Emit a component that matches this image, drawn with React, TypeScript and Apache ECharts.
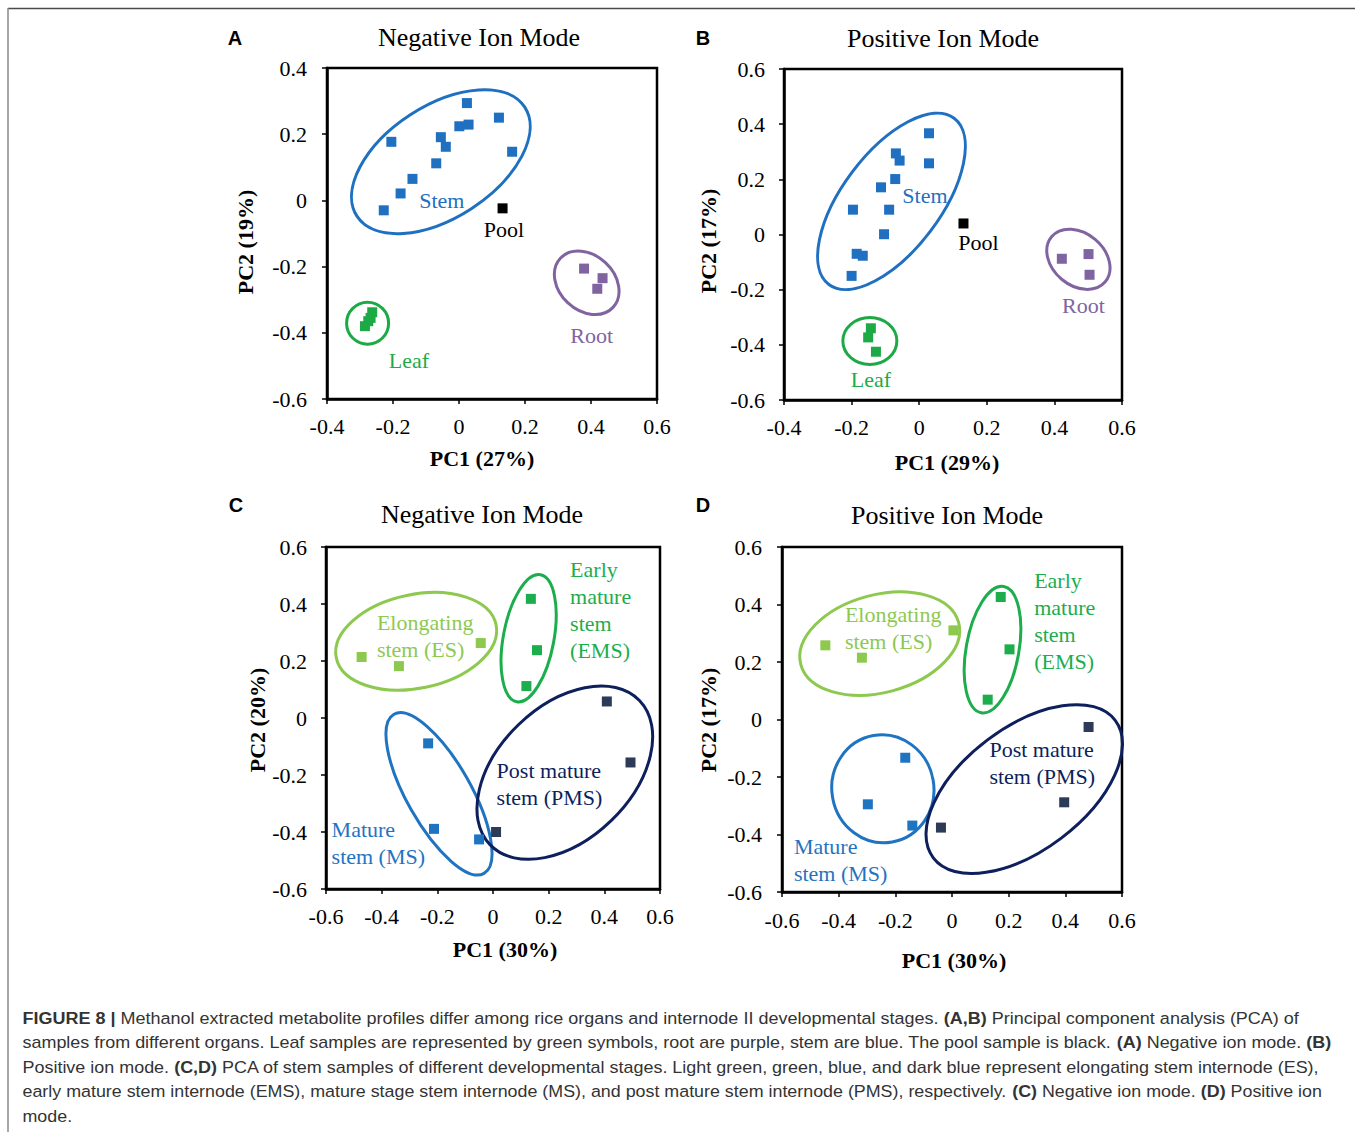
import React, { useEffect, useRef } from 'react';
import * as echarts from 'echarts';

const SERIF = "'Liberation Serif', 'Times New Roman', serif";

// ---------- Colours ----------
const C_STEM = '#1f70c1';
const C_LEAF = '#1daa46';
const C_ROOT = '#8064a2';
const C_POOL = '#000000';
const C_ES = '#8dc94e';
const C_EMS = '#1cad4c';
const C_MS = '#1f74c2';
const C_PMS_PT = '#2c3b58';
const C_PMS = '#0d1f5c';

// ---------- Panel A (negative ion, organs) ----------
const aStem = [[0.024, 0.294], [0.121, 0.25], [0.001, 0.224], [0.029, 0.229], [-0.205, 0.177], [-0.055, 0.191], [-0.04, 0.162], [0.161, 0.147], [-0.069, 0.112], [-0.141, 0.065], [-0.177, 0.021], [-0.228, -0.03]];
const aPool = [[0.132, -0.024]];
const aRoot = [[0.379, -0.206], [0.435, -0.235], [0.419, -0.267]];
const aLeaf = [[-0.263, -0.338], [-0.268, -0.355], [-0.275, -0.365], [-0.285, -0.38]];

// ---------- Panel B (positive ion, organs) ----------
const bStem = [[0.029, 0.367], [0.029, 0.258], [-0.069, 0.294], [-0.058, 0.268], [-0.071, 0.201], [-0.113, 0.171], [-0.196, 0.09], [-0.089, 0.09], [-0.104, 0.001], [-0.185, -0.07], [-0.167, -0.077], [-0.2, -0.15]];
const bPool = [[0.131, 0.04]];
const bRoot = [[0.422, -0.088], [0.501, -0.071], [0.504, -0.146]];
const bLeaf = [[-0.143, -0.34], [-0.151, -0.373], [-0.128, -0.425]];

// ---------- Panel C (negative ion, stem stages) ----------
const cES = [[-0.472, 0.214], [-0.338, 0.182], [-0.044, 0.263]];
const cEMS = [[0.136, 0.418], [0.158, 0.238], [0.12, 0.112]];
const cMS = [[-0.233, -0.089], [-0.212, -0.389], [-0.05, -0.426]];
const cPMS = [[0.409, 0.058], [0.494, -0.156], [0.011, -0.4]];

// ---------- Panel D (positive ion, stem stages) ----------
const dES = [[-0.447, 0.258], [-0.318, 0.215], [0.005, 0.31]];
const dEMS = [[0.172, 0.426], [0.203, 0.244], [0.126, 0.069]];
const dMS = [[-0.165, -0.133], [-0.297, -0.295], [-0.14, -0.369]];
const dPMS = [[0.482, -0.026], [0.396, -0.288], [-0.039, -0.376]];

// ---------- Group ellipses: [centre x, centre y, semi-axis a (px), semi-axis b (px), tilt deg] ----------
const aEllStem = [-0.055, 0.117, 100, 56, 33];
const aEllLeaf = [-0.277, -0.371, 21, 21, 0];
const aEllRoot = [0.387, -0.249, 36, 27.5, -43];
const bEllStem = [-0.082, 0.12, 104, 49, 53];
const bEllLeaf = [-0.146, -0.386, 27, 23.5, 0];
const bEllRoot = [0.471, -0.09, 35, 26, -40];
const cEllES = [-0.276, 0.269, 81.6, 46.9, 11.7];
const cEllEMS = [0.128, 0.28, 64.6, 25.3, 79.4];
const cEllMS = [-0.194, -0.266, 91.5, 32.1, -60.5];
const cEllPMS = [0.258, -0.192, 103.8, 66.7, 44];
const dEllES = [-0.255, 0.264, 81.7, 48.9, 14.9];
const dEllEMS = [0.143, 0.243, 64.1, 26.4, 79.9];
const dEllMS = [-0.244, -0.241, 54, 51, 100];
const dEllPMS = [0.255, -0.242, 114, 61.4, 37.1];

// ---------- Group labels ----------
const aLabels = [
  { text: 'Stem', pos: [-0.052, 0.001], color: C_STEM, left: false },
  { text: 'Pool', pos: [0.136, -0.087], color: '#000', left: false },
  { text: 'Root', pos: [0.402, -0.407], color: C_ROOT, left: false },
  { text: 'Leaf', pos: [-0.152, -0.484], color: C_LEAF, left: false },
];
const bLabels = [
  { text: 'Stem', pos: [0.017, 0.143], color: C_STEM, left: false },
  { text: 'Pool', pos: [0.175, -0.03], color: '#000', left: false },
  { text: 'Root', pos: [0.486, -0.259], color: C_ROOT, left: false },
  { text: 'Leaf', pos: [-0.143, -0.527], color: C_LEAF, left: false },
];
const cLabels = [
  { text: 'Elongating\nstem (ES)', pos: [-0.417, 0.288], color: C_ES, left: true },
  { text: 'Early\nmature\nstem\n(EMS)', pos: [0.277, 0.38], color: C_EMS, left: true },
  { text: 'Post mature\nstem (PMS)', pos: [0.013, -0.231], color: C_PMS, left: true },
  { text: 'Mature\nstem (MS)', pos: [-0.58, -0.438], color: C_MS, left: true },
];
const dLabels = [
  { text: 'Elongating\nstem (ES)', pos: [-0.378, 0.317], color: C_ES, left: true },
  { text: 'Early\nmature\nstem\n(EMS)', pos: [0.29, 0.342], color: C_EMS, left: true },
  { text: 'Post mature\nstem (PMS)', pos: [0.132, -0.152], color: C_PMS, left: true },
  { text: 'Mature\nstem (MS)', pos: [-0.558, -0.488], color: C_MS, left: true },
];

const panelTitles = ['Negative Ion Mode', 'Positive Ion Mode', 'Negative Ion Mode', 'Positive Ion Mode'];
const panelLetters = ['A', 'B', 'C', 'D'];
const xNames = ['PC1 (27%)', 'PC1 (29%)', 'PC1 (30%)', 'PC1 (30%)'];
const yNames = ['PC2 (19%)', 'PC2 (17%)', 'PC2 (20%)', 'PC2 (17%)'];

const captionLines: [string, boolean][][] = [
  [['FIGURE 8 |', true], [' Methanol extracted metabolite profiles differ among rice organs and internode II developmental stages. ', false], ['(A,B)', true], [' Principal component analysis (PCA) of', false]],
  [['samples from different organs. Leaf samples are represented by green symbols, root are purple, stem are blue. The pool sample is black. ', false], ['(A)', true], [' Negative ion mode. ', false], ['(B)', true]],
  [['Positive ion mode. ', false], ['(C,D)', true], [' PCA of stem samples of different developmental stages. Light green, green, blue, and dark blue represent elongating stem internode (ES),', false]],
  [['early mature stem internode (EMS), mature stage stem internode (MS), and post mature stem internode (PMS), respectively. ', false], ['(C)', true], [' Negative ion mode. ', false], ['(D)', true], [' Positive ion', false]],
  [['mode.', false]],
];
const captionWidths = [1276, 1309, 1298, 1300, 0];

const fmt = (v: number) => {
  const r = Math.round(v * 10) / 10;
  return r === 0 ? '0' : String(r);
};

function axis(gi: number, min: number, max: number, margin: number) {
  return {
    type: 'value', gridIndex: gi, min, max, interval: 0.2,
    axisLine: { show: true, onZero: false, lineStyle: { color: '#000', width: 2.5 } },
    axisTick: { show: true, inside: false, length: 5, lineStyle: { color: '#000', width: 1.5 } },
    axisLabel: { fontFamily: SERIF, fontSize: 22, color: '#000', margin, formatter: fmt, showMinLabel: true, showMaxLabel: true },
    splitLine: { show: false },
  };
}

function pts(gi: number, name: string, data: number[][], color: string) {
  return {
    type: 'scatter', name, xAxisIndex: gi, yAxisIndex: gi, data,
    symbol: 'rect', symbolSize: 10, itemStyle: { color, opacity: 1 }, silent: true, z: 4,
  };
}

function ell(gi: number, e: number[], color: string) {
  return {
    type: 'custom', xAxisIndex: gi, yAxisIndex: gi, silent: true, clip: false, z: 3,
    data: [e],
    renderItem: (_p: any, api: any) => {
      const c = api.coord([api.value(0), api.value(1)]);
      return {
        type: 'ellipse', x: c[0], y: c[1], rotation: (api.value(4) * Math.PI) / 180,
        shape: { cx: 0, cy: 0, rx: api.value(2), ry: api.value(3) },
        style: { fill: 'none', stroke: color, lineWidth: 3 },
      };
    },
  };
}

function labels(gi: number, items: any[]) {
  return {
    type: 'custom', xAxisIndex: gi, yAxisIndex: gi, silent: true, clip: false, z: 6,
    data: items.map((it) => it.pos),
    renderItem: (p: any, api: any) => {
      const it = items[p.dataIndex];
      const c = api.coord([api.value(0), api.value(1)]);
      const align = it.left ? 'left' : 'center';
      return {
        type: 'text', x: c[0], y: c[1],
        style: {
          text: it.text, fill: it.color, fontFamily: 'Liberation Serif', fontSize: 22, lineHeight: 27,
          align, textAlign: align, verticalAlign: 'middle', textVerticalAlign: 'middle',
        },
      };
    },
  };
}

function measure(segs: [string, boolean][]) {
  const cv = document.createElement('canvas');
  const ctx = cv.getContext('2d');
  if (!ctx) return 1;
  let w = 0;
  segs.forEach(([t, b]) => {
    ctx.font = (b ? 'bold ' : '') + '17px "Liberation Sans"';
    w += ctx.measureText(t).width;
  });
  return w;
}

function textEl(x: number, y: number, text: string, font: any, rotation = 0) {
  return {
    type: 'text', x, y, rotation, silent: true,
    style: {
      text, fill: '#000', ...font,
      align: 'center', textAlign: 'center', verticalAlign: 'middle', textVerticalAlign: 'middle',
    },
  };
}

export default function App() {
  const ref = useRef<HTMLDivElement>(null);
  useEffect(() => {
    if (!ref.current) return;
    const chart = echarts.init(ref.current, null, { renderer: 'svg' });

    const grids = [
      { left: 327, top: 68, width: 330, height: 331 },
      { left: 784, top: 69, width: 338, height: 331 },
      { left: 326, top: 547, width: 334, height: 342 },
      { left: 782, top: 547, width: 340, height: 345 },
    ].map((g) => ({ ...g, show: true, borderColor: '#000', borderWidth: 2.5, backgroundColor: 'transparent', containLabel: false }));

    const xAxes = [axis(0, -0.4, 0.6, 16), axis(1, -0.4, 0.6, 16), axis(2, -0.6, 0.6, 16), axis(3, -0.6, 0.6, 17)];
    const yAxes = [axis(0, -0.6, 0.4, 20), axis(1, -0.6, 0.6, 19), axis(2, -0.6, 0.6, 19), axis(3, -0.6, 0.6, 20)];

    const series: any[] = [
      ell(0, aEllStem, C_STEM), ell(0, aEllLeaf, C_LEAF), ell(0, aEllRoot, C_ROOT),
      pts(0, 'Stem', aStem, C_STEM), pts(0, 'Pool', aPool, C_POOL), pts(0, 'Root', aRoot, C_ROOT), pts(0, 'Leaf', aLeaf, C_LEAF),
      labels(0, aLabels),
      ell(1, bEllStem, C_STEM), ell(1, bEllLeaf, C_LEAF), ell(1, bEllRoot, C_ROOT),
      pts(1, 'Stem', bStem, C_STEM), pts(1, 'Pool', bPool, C_POOL), pts(1, 'Root', bRoot, C_ROOT), pts(1, 'Leaf', bLeaf, C_LEAF),
      labels(1, bLabels),
      ell(2, cEllES, C_ES), ell(2, cEllEMS, C_EMS), ell(2, cEllMS, C_MS), ell(2, cEllPMS, C_PMS),
      pts(2, 'ES', cES, C_ES), pts(2, 'EMS', cEMS, C_EMS), pts(2, 'MS', cMS, C_MS), pts(2, 'PMS', cPMS, C_PMS_PT),
      labels(2, cLabels),
      ell(3, dEllES, C_ES), ell(3, dEllEMS, C_EMS), ell(3, dEllMS, C_MS), ell(3, dEllPMS, C_PMS),
      pts(3, 'ES', dES, C_ES), pts(3, 'EMS', dEMS, C_EMS), pts(3, 'MS', dMS, C_MS), pts(3, 'PMS', dPMS, C_PMS_PT),
      labels(3, dLabels),
    ];

    const titlePos = [[479, 37], [943, 38], [482, 514], [947, 515]];
    const letterPos = [[235, 38], [703, 38], [236, 505], [703, 505]];
    const xNamePos = [[482, 458], [947, 462], [505, 949], [954, 960]];
    const yNamePos = [[245, 242], [708, 241], [257, 720], [708, 720]];

    const graphic: any[] = [
      { type: 'line', silent: true, shape: { x1: 8, y1: 8.5, x2: 1355, y2: 8.5 }, style: { stroke: '#4a4a4a', lineWidth: 1.5 } },
      { type: 'line', silent: true, shape: { x1: 8, y1: 8, x2: 8, y2: 1132 }, style: { stroke: '#8a8a8a', lineWidth: 1.5 } },
    ];
    panelTitles.forEach((t, i) => {
      graphic.push(textEl(titlePos[i][0], titlePos[i][1], t, { fontFamily: 'Liberation Serif', fontSize: 26 }));
    });
    panelLetters.forEach((t, i) => {
      graphic.push(textEl(letterPos[i][0], letterPos[i][1], t, { fontFamily: 'Liberation Sans', fontSize: 20, fontWeight: 'bold' }));
    });
    xNames.forEach((t, i) => {
      graphic.push(textEl(xNamePos[i][0], xNamePos[i][1], t, { fontFamily: 'Liberation Serif', fontSize: 22, fontWeight: 'bold' }));
    });
    yNames.forEach((t, i) => {
      graphic.push(textEl(yNamePos[i][0], yNamePos[i][1], t, { fontFamily: 'Liberation Serif', fontSize: 22, fontWeight: 'bold' }, Math.PI / 2));
    });

    let lastScale = 1;
    captionLines.forEach((segs, i) => {
      const w = measure(segs);
      const s = captionWidths[i] > 0 ? captionWidths[i] / w : lastScale;
      lastScale = s;
      const rich = segs.map(([t, b]) => (b ? `{b|${t}}` : `{n|${t}}`)).join('');
      graphic.push({
        type: 'text', x: 22.5, y: 1018 + i * 24.5, scaleX: s, silent: true,
        style: {
          text: rich, fontFamily: 'Liberation Sans', fontSize: 17, fill: '#333',
          align: 'left', textAlign: 'left', verticalAlign: 'middle', textVerticalAlign: 'middle',
          rich: {
            n: { fontFamily: 'Liberation Sans', fontSize: 17, fill: '#333', color: '#333' },
            b: { fontFamily: 'Liberation Sans', fontSize: 17, fontWeight: 'bold', fill: '#333', color: '#333' },
          },
        },
      });
    });

    chart.setOption({
      animation: false,
      backgroundColor: '#ffffff',
      grid: grids,
      xAxis: xAxes,
      yAxis: yAxes,
      series,
      graphic,
    });
    return () => chart.dispose();
  }, []);
  return <div ref={ref} style={{ position: 'absolute', left: 0, top: 0, width: 1355, height: 1132 }} />;
}
